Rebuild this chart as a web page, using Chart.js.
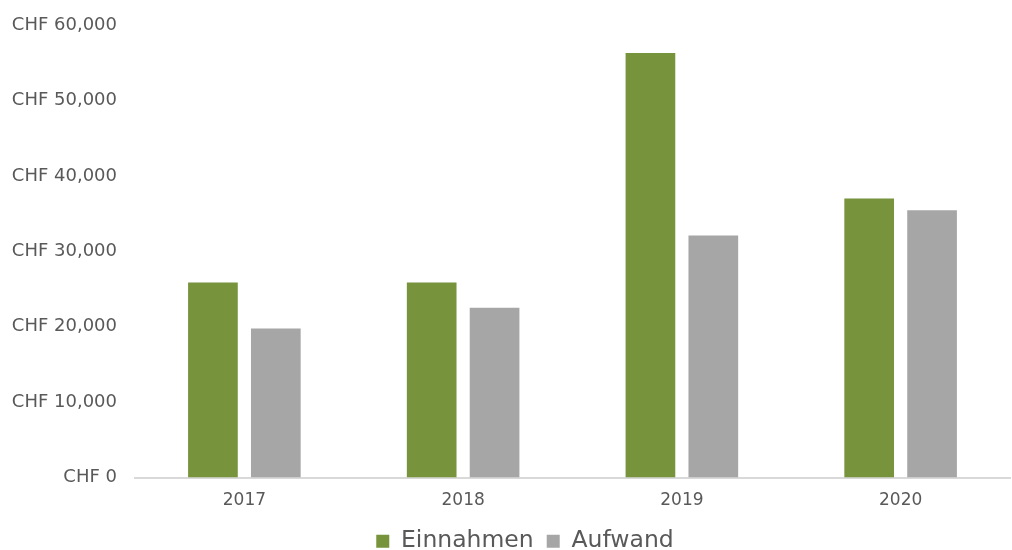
<!DOCTYPE html>
<html>
<head>
<meta charset="utf-8">
<script src="https://cdn.jsdelivr.net/npm/chart.js@4/dist/chart.umd.min.js"></script>
<style>
html,body{margin:0;padding:0;background:#fff;}
#wrap{width:1012px;height:550px;position:relative;}
</style>
</head>
<body>
<div id="wrap"><canvas id="c" width="1012" height="550"></canvas></div>
<script>
const categories = ['2017', '2018', '2019', '2020'];
const einnahmen = [25850, 25850, 56300, 37000];
const aufwand = [19750, 22500, 32100, 35450];
const seriesNames = ['Einnahmen', 'Aufwand'];

const FONT = '"DejaVu Sans", sans-serif';

const legendShift = {
  id: 'legendShift',
  afterLayout(chart) {
    if (chart.legend) { chart.legend.left += 20; chart.legend.right += 20; }
  }
};

new Chart(document.getElementById('c'), {
  type: 'bar',
  data: {
    labels: categories,
    datasets: [
      { label: seriesNames[0], data: einnahmen, backgroundColor: '#77933c', borderWidth: 0,
        categoryPercentage: 0.575, barPercentage: 0.79 },
      { label: seriesNames[1], data: aufwand, backgroundColor: '#a6a6a6', borderWidth: 0,
        categoryPercentage: 0.575, barPercentage: 0.79 }
    ]
  },
  plugins: [legendShift],
  options: {
    responsive: false,
    animation: false,
    devicePixelRatio: 1,
    layout: { padding: { top: 25, right: 2, left: 0, bottom: -13 } },
    plugins: {
      tooltip: { enabled: false },
      legend: {
        position: 'bottom',
        labels: {
          color: '#595959',
          font: { family: FONT, size: 23.5, weight: 'normal' },
          boxWidth: 13, boxHeight: 13, padding: 13
        }
      }
    },
    scales: {
      x: {
        grid: { display: false },
        border: { display: true, color: '#d9d9d9', width: 2 },
        ticks: { color: '#595959', font: { family: FONT, size: 17, lineHeight: 1 }, padding: 7 }
      },
      y: {
        min: 0, max: 60000,
        grid: { display: false },
        border: { display: false },
        afterFit: (s) => { s.width = 135; },
        ticks: {
          stepSize: 10000,
          color: '#595959',
          padding: 10,
          font: { family: FONT, size: 18 },
          callback: (v) => 'CHF ' + Number(v).toLocaleString('en-US')
        }
      }
    }
  }
});
</script>
</body>
</html>
